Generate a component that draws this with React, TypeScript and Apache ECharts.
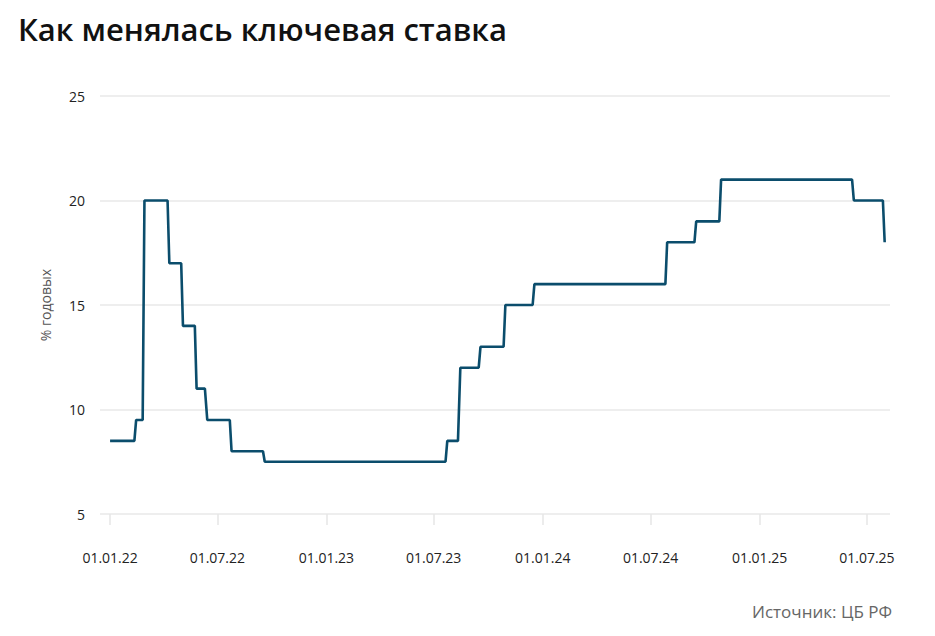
import React, { useEffect, useRef } from "react";
import * as echarts from "echarts";

const dates = [
  "2022-01-01", "2022-02-11", "2022-02-14", "2022-02-25", "2022-02-28",
  "2022-04-08", "2022-04-11", "2022-05-01", "2022-05-04", "2022-05-24",
  "2022-05-27", "2022-06-10", "2022-06-14", "2022-07-22", "2022-07-25",
  "2022-09-16", "2022-09-19", "2023-07-21", "2023-07-24", "2023-08-11",
  "2023-08-15", "2023-09-15", "2023-09-18", "2023-10-27", "2023-10-30",
  "2023-12-15", "2023-12-18", "2024-07-26", "2024-07-29", "2024-09-13",
  "2024-09-16", "2024-10-25", "2024-10-28", "2025-06-06", "2025-06-09",
  "2025-07-28", "2025-07-31",
];
const rates = [
  8.5, 8.5, 9.5, 9.5, 20,
  20, 17, 17, 14, 14,
  11, 11, 9.5, 9.5, 8,
  8, 7.5, 7.5, 8.5, 8.5,
  12, 12, 13, 13, 15,
  15, 16, 16, 18, 18,
  19, 19, 21, 21, 20,
  20, 18,
];
const tickDates = [
  "2022-01-01", "2022-07-01", "2023-01-01", "2023-07-01",
  "2024-01-01", "2024-07-01", "2025-01-01", "2025-07-01",
];

const FONT = "'Open Sans', 'Noto Sans', sans-serif";
const ts = (d: string) => new Date(d + "T00:00:00Z").getTime();
const fmt = (v: number) => {
  const d = new Date(v);
  const dd = String(d.getUTCDate()).padStart(2, "0");
  const mm = String(d.getUTCMonth() + 1).padStart(2, "0");
  const yy = String(d.getUTCFullYear()).slice(2);
  return `${dd}.${mm}.${yy}`;
};

export default function App() {
  const ref = useRef<HTMLDivElement>(null);
  useEffect(() => {
    if (!ref.current) return;
    const chart = echarts.init(ref.current, null, { renderer: "svg" });
    const tickVals = tickDates.map(ts);
    chart.setOption({
      animation: false,
      backgroundColor: "#ffffff",
      textStyle: { fontFamily: FONT },
      title: {
        text: "Как менялась ключевая ставка",
        left: 5,
        top: 0,
        textStyle: { fontFamily: FONT, fontSize: 31, fontWeight: 600, color: "#111111" },
      },
      graphic: [
        {
          type: "text",
          right: 51,
          top: 595,
          style: {
            text: "Источник: ЦБ РФ",
            fontFamily: FONT,
            fontSize: 17,
            fill: "#666666",
          },
        },
      ],
      grid: { left: 92, right: 53, top: 88, bottom: 130, containLabel: false },
      xAxis: {
        type: "value",
        min: ts("2021-12-15"),
        max: ts("2025-08-09"),
        axisLine: { show: false },
        splitLine: { show: false },
        axisTick: {
          show: true,
          length: 11,
          lineStyle: { color: "#e6e6e6", width: 1.5 },
          customValues: tickVals,
        },
        axisLabel: {
          customValues: tickVals,
          formatter: (v: number) => fmt(v),
          margin: 36,
          fontFamily: FONT,
          fontSize: 14,
          color: "#222222",
        },
      },
      yAxis: {
        type: "value",
        min: 5,
        max: 25,
        interval: 5,
        name: "% годовых",
        nameLocation: "middle",
        nameGap: 48,
        nameTextStyle: { fontFamily: FONT, fontSize: 14, color: "#555555" },
        axisLine: { show: false },
        axisTick: { show: false },
        splitLine: { lineStyle: { color: "#e8e8e8", width: 1.5 } },
        axisLabel: {
          margin: 15,
          fontFamily: FONT,
          fontSize: 14,
          color: "#222222",
        },
      },
      series: [
        {
          type: "line",
          data: dates.map((d, i) => [ts(d), rates[i]]),
          showSymbol: false,
          lineStyle: { color: "#0b4d6c", width: 2.6 },
          itemStyle: { color: "#0b4d6c" },
        },
      ],
    });
    return () => chart.dispose();
  }, []);
  return <div ref={ref} style={{ width: 935, height: 636 }} />;
}
